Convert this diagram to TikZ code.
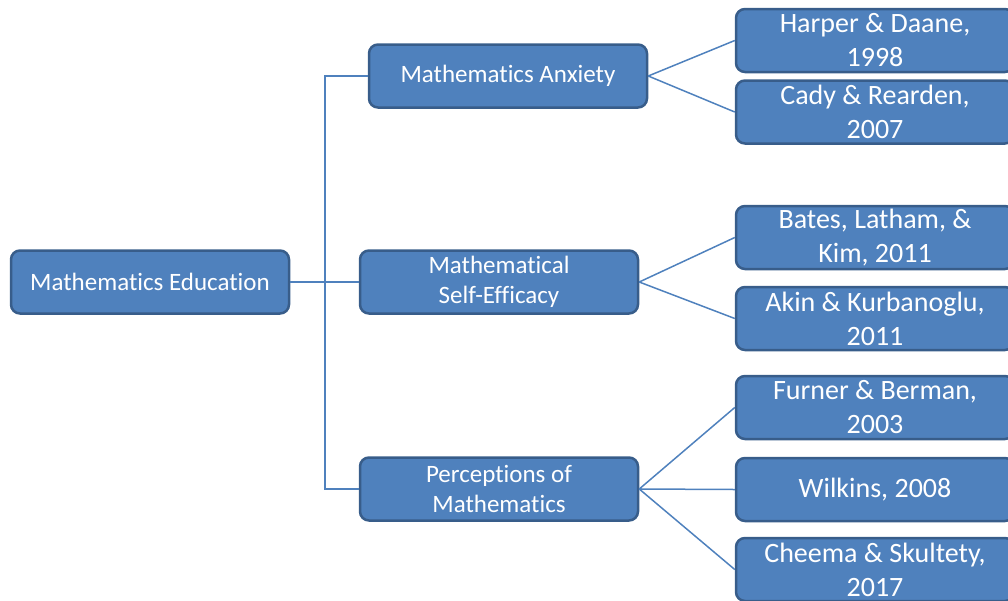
\documentclass[tikz,border=0pt]{standalone}
\usepackage{fontspec}
\setmainfont{Carlito}[Ligatures=NoCommon]
\definecolor{boxblue}{HTML}{4F81BD}
\definecolor{boxedge}{HTML}{385D8A}
\tikzset{
  topic/.style={draw=boxedge, line width=2.5pt, fill=boxblue, rounded corners=9pt,
    text=white, minimum width=278pt, minimum height=63pt, align=center, inner sep=0pt,
    font=\fontsize{25}{30}\selectfont},
  source/.style={topic, font=\fontsize{28}{34}\selectfont},
  link/.style={draw=boxblue, line width=1.5pt}
}
\begin{document}
\begin{tikzpicture}[x=1pt,y=-1pt]
    \useasboundingbox (0,0) rectangle (1008,600);
    % main topic and sub topics
    \node[topic] (edu) at (150,282) {Mathematics Education};
    \node[topic] (anx) at (508,76) {Mathematics Anxiety};
    \node[topic] (eff) at (499,282) {Mathematical\\Self-Efficacy};
    \node[topic] (per) at (499,489) {Perceptions of\\Mathematics};
    % sources
    \node[source] (harper) at (875,40.5) {Harper \& Daane,\\1998};
    \node[source] (cady) at (875,112) {Cady \& Rearden,\\2007};
    \node[source] (bates) at (875,237.5) {Bates, Latham, \&\\Kim, 2011};
    \node[source] (akin) at (875,318.5) {Akin \& Kurbanoglu,\\2011};
    \node[source] (furner) at (875,407.5) {Furner \& Berman,\\2003};
    \node[source] (wilkins) at (875,489.5) {Wilkins, 2008};
    \node[source] (cheema) at (875,569.5) {Cheema \& Skultety,\\2017};
    % tree lines
    \coordinate (trunk) at (325,282);
    \draw[link] (edu) -- (eff);
    \draw[link] (anx.west) -| (trunk) |- (per.west);
    \draw[link] (anx.east) -- (harper.west) (anx.east) -- (cady.west);
    \draw[link] (eff.east) -- (bates.west) (eff.east) -- (akin.west);
    \draw[link] (per.east) -- (furner.west) (per.east) -- (wilkins.west)
      (per.east) -- (cheema.west);
\end{tikzpicture}
\end{document}
